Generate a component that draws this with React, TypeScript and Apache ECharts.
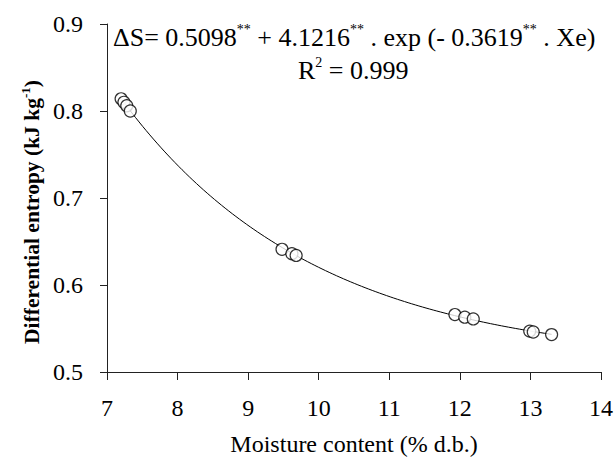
import React, { useEffect, useRef } from "react";
import * as echarts from "echarts";

// Observed data points (moisture content % d.b., differential entropy kJ kg-1)
const moisture = [7.2, 7.24, 7.28, 7.33, 9.48, 9.62, 9.68, 11.93, 12.07, 12.19, 12.99, 13.04, 13.3];
const entropy = [0.814, 0.81, 0.806, 0.8, 0.641, 0.636, 0.634, 0.566, 0.563, 0.561, 0.547, 0.546, 0.543];

// Fitted model coefficients shown on the chart
const coefA = 0.5098;
const coefB = 4.1216;
const coefC = 0.3619;
const fitRange = [7.2, 13.3];

const xTicks = [7, 8, 9, 10, 11, 12, 13, 14];
const yTicks = [0.5, 0.6, 0.7, 0.8, 0.9];

const FONT = "Liberation Serif";

export default function App() {
  const ref = useRef<HTMLDivElement>(null);
  useEffect(() => {
    if (!ref.current) return;
    const chart = echarts.init(ref.current, null, { renderer: "svg" });
    const fit: number[][] = [];
    const steps = 120;
    for (let i = 0; i <= steps; i++) {
      const x = fitRange[0] + ((fitRange[1] - fitRange[0]) * i) / steps;
      fit.push([x, coefA + coefB * Math.exp(-coefC * x)]);
    }
    const points = moisture.map((m, i) => [m, entropy[i]]);
    const axisLine = { show: true, lineStyle: { color: "#222", width: 1 } };
    chart.setOption({
      animation: false,
      backgroundColor: "#fff",
      textStyle: { fontFamily: FONT },
      grid: { left: 107, right: 15, top: 24, bottom: 85 },
      xAxis: {
        type: "value",
        min: xTicks[0],
        max: xTicks[xTicks.length - 1],
        interval: 1,
        axisLine,
        axisTick: { show: true, length: 8, lineStyle: { color: "#222" } },
        splitLine: { show: false },
        axisLabel: { fontFamily: FONT, fontSize: 24, color: "#000", margin: 24 },
        name: "Moisture content (% d.b.)",
        nameLocation: "middle",
        nameGap: 60,
        nameTextStyle: { fontFamily: FONT, fontSize: 24, color: "#000" },
      },
      yAxis: {
        type: "value",
        min: yTicks[0],
        max: yTicks[yTicks.length - 1],
        interval: 0.1,
        axisLine,
        axisTick: { show: true, length: 7, lineStyle: { color: "#222" } },
        splitLine: { show: false },
        axisLabel: {
          fontFamily: FONT,
          fontSize: 24,
          color: "#000",
          margin: 24,
          formatter: (v: number) => v.toFixed(1),
        },
      },
      graphic: [
        {
          type: "text",
          x: 32,
          y: 212,
          rotation: Math.PI / 2,
          style: {
            text: "{t|Differential entropy (kJ kg}{s|-1}{t|)}",
            fontFamily: FONT,
            align: "center",
            verticalAlign: "middle",
            rich: {
              t: { fontFamily: FONT, fontSize: 21.5, fontWeight: "bold", fill: "#000", lineHeight: 26 },
              s: { fontFamily: FONT, fontSize: 13, fontWeight: "bold", fill: "#000", verticalAlign: "top", lineHeight: 26 },
            },
          },
        },
        {
          type: "text",
          left: 113,
          top: 22,
          style: {
            text: "{t|ΔS= 0.5098}{s|**}{t| + 4.1216}{s|**}{t| . exp (- 0.3619}{s|**}{t| . Xe)}",
            fontFamily: FONT,
            rich: {
              t: { fontFamily: FONT, fontSize: 26, fill: "#000", lineHeight: 30 },
              s: { fontFamily: FONT, fontSize: 14, fill: "#000", verticalAlign: "top", lineHeight: 30 },
            },
          },
        },
        {
          type: "text",
          left: 298,
          top: 55,
          style: {
            text: "{t|R}{s|2}{t| = 0.999}",
            fontFamily: FONT,
            rich: {
              t: { fontFamily: FONT, fontSize: 26, fill: "#000", lineHeight: 30 },
              s: { fontFamily: FONT, fontSize: 14, fill: "#000", verticalAlign: "top", lineHeight: 30 },
            },
          },
        },
      ],
      series: [
        {
          type: "line",
          data: fit,
          showSymbol: false,
          symbol: "none",
          smooth: false,
          lineStyle: { color: "#000", width: 1 },
          z: 2,
        },
        {
          type: "scatter",
          data: points,
          symbol: "circle",
          symbolSize: 12,
          itemStyle: { color: "#fff", borderColor: "#000", borderWidth: 1.2 },
          z: 3,
        },
      ],
    });
    return () => chart.dispose();
  }, []);
  return (
    <div
      ref={ref}
      style={{ position: "absolute", left: 0, top: 0, width: 616, height: 461 }}
    />
  );
}
